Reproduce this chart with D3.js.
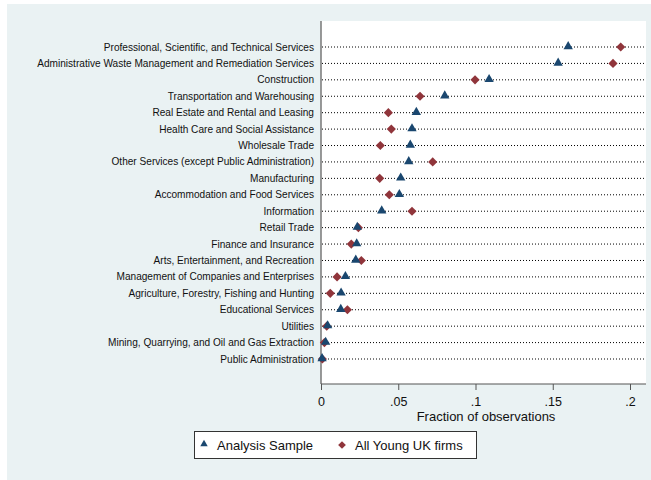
<!DOCTYPE html>
<html>
<head>
<meta charset="utf-8">
<script src="https://cdn.jsdelivr.net/npm/d3@7"></script>
<style>
  html, body { margin: 0; padding: 0; background: #fff; }
</style>
</head>
<body>
<div id="chart"></div>
<script>
const industries = [
    "Professional, Scientific, and Technical Services",
    "Administrative Waste Management and Remediation Services",
    "Construction",
    "Transportation and Warehousing",
    "Real Estate and Rental and Leasing",
    "Health Care and Social Assistance",
    "Wholesale Trade",
    "Other Services (except Public Administration)",
    "Manufacturing",
    "Accommodation and Food Services",
    "Information",
    "Retail Trade",
    "Finance and Insurance",
    "Arts, Entertainment, and Recreation",
    "Management of Companies and Enterprises",
    "Agriculture, Forestry, Fishing and Hunting",
    "Educational Services",
    "Utilities",
    "Mining, Quarrying, and Oil and Gas Extraction",
    "Public Administration"
];
const analysisSample = [0.160, 0.1535, 0.1088, 0.0801, 0.0617, 0.0589, 0.0578, 0.0568, 0.0516, 0.0507,
    0.0393, 0.0235, 0.0231, 0.0225, 0.0158, 0.0130, 0.0128, 0.0043, 0.0030, 0.0007];
const allYoungUK = [0.194, 0.189, 0.0997, 0.0641, 0.0436, 0.0455, 0.0384, 0.0723, 0.0380, 0.0442,
    0.0589, 0.0242, 0.0196, 0.0261, 0.0104, 0.0060, 0.0171, 0.0037, 0.0022, 0.0009];
const xTicks = [0, 0.05, 0.1, 0.15, 0.2];
const tickLabels = ["0", ".05", ".1", ".15", ".2"];
const seriesNames = ["Analysis Sample", "All Young UK firms"];

const width = 651, height = 480;
const bg = "#eaf2f3", navy = "#1a476f", maroon = "#90353b";
const plot = { left: 321, right: 646, top: 21, bottom: 384 };

const svg = d3.create("svg")
    .attr("width", width)
    .attr("height", height)
    .attr("viewBox", [0, 0, width, height])
    .attr("style", "font-family: 'Liberation Sans', Arial, sans-serif; display: block;");

svg.append("rect").attr("x", 7).attr("y", 4).attr("width", width - 7).attr("height", height - 4).attr("fill", bg);
svg.append("rect")
    .attr("x", plot.left).attr("y", plot.top)
    .attr("width", plot.right - plot.left).attr("height", plot.bottom - plot.top)
    .attr("fill", "#fff");

const x = d3.scaleLinear().domain([0, 0.2]).range([321, 630]);
const y = d3.scalePoint().domain(industries).range([47, 359]);

// dotted guide lines
svg.append("g")
    .selectAll("line")
    .data(industries)
    .join("line")
    .attr("x1", plot.left + 1).attr("x2", plot.right - 1)
    .attr("y1", d => y(d)).attr("y2", d => y(d))
    .attr("stroke", "#000")
    .attr("stroke-width", 1)
    .attr("stroke-dasharray", "1,2");

// category labels
svg.append("g")
    .selectAll("text")
    .data(industries)
    .join("text")
    .attr("x", 314)
    .attr("y", d => y(d))
    .attr("dy", "0.35em")
    .attr("text-anchor", "end")
    .attr("font-size", 10.1)
    .attr("fill", "#111")
    .text(d => d);

// axes
svg.append("line")
    .attr("x1", plot.left).attr("x2", plot.left)
    .attr("y1", plot.top).attr("y2", plot.bottom)
    .attr("stroke", "#777").attr("stroke-width", 1.5);

const xAxis = svg.append("g")
    .attr("transform", `translate(0,${plot.bottom})`)
    .call(d3.axisBottom(x).tickValues(xTicks).tickFormat((d, i) => tickLabels[i]).tickSize(6).tickPadding(7).tickSizeOuter(0));
xAxis.select(".domain").remove();
xAxis.selectAll(".tick line").attr("stroke", "#555");
xAxis.selectAll(".tick text").attr("font-size", 12.5).attr("fill", "#111").attr("font-family", "'Liberation Sans', Arial, sans-serif");
svg.append("line")
    .attr("x1", plot.left).attr("x2", plot.right)
    .attr("y1", plot.bottom).attr("y2", plot.bottom)
    .attr("stroke", "#555").attr("stroke-width", 1.2);

svg.append("text")
    .attr("x", 486)
    .attr("y", 421)
    .attr("text-anchor", "middle")
    .attr("font-size", 13)
    .attr("fill", "#111")
    .text("Fraction of observations");

const tri = d3.symbol().type(d3.symbolTriangle).size(38);
const dia = d3.symbol().type(d3.symbolSquare).size(42);

// All Young UK firms (diamonds)
svg.append("g")
    .selectAll("path")
    .data(industries)
    .join("path")
    .attr("d", dia)
    .attr("transform", (d, i) => `translate(${x(allYoungUK[i])},${y(d)}) rotate(45)`)
    .attr("fill", maroon);

// Analysis Sample (triangles)
svg.append("g")
    .selectAll("path")
    .data(industries)
    .join("path")
    .attr("d", tri)
    .attr("transform", (d, i) => `translate(${x(analysisSample[i])},${y(d) - 0.5})`)
    .attr("fill", navy);

// legend
const legend = svg.append("g");
legend.append("rect")
    .attr("x", 194.5).attr("y", 431.5).attr("width", 282).attr("height", 27)
    .attr("fill", "#fff").attr("stroke", "#333").attr("stroke-width", 1);
legend.append("path").attr("d", d3.symbol().type(d3.symbolTriangle).size(24))
    .attr("transform", "translate(204,444)").attr("fill", navy);
legend.append("path").attr("d", d3.symbol().type(d3.symbolSquare).size(30))
    .attr("transform", "translate(342,445) rotate(45)").attr("fill", maroon);
legend.selectAll("text.lab")
    .data(seriesNames)
    .join("text")
    .attr("x", (d, i) => i === 0 ? 217 : 355)
    .attr("y", 445)
    .attr("dy", "0.35em")
    .attr("font-size", 13)
    .attr("fill", "#111")
    .text(d => d);

document.getElementById("chart").appendChild(svg.node());
</script>
</body>
</html>
